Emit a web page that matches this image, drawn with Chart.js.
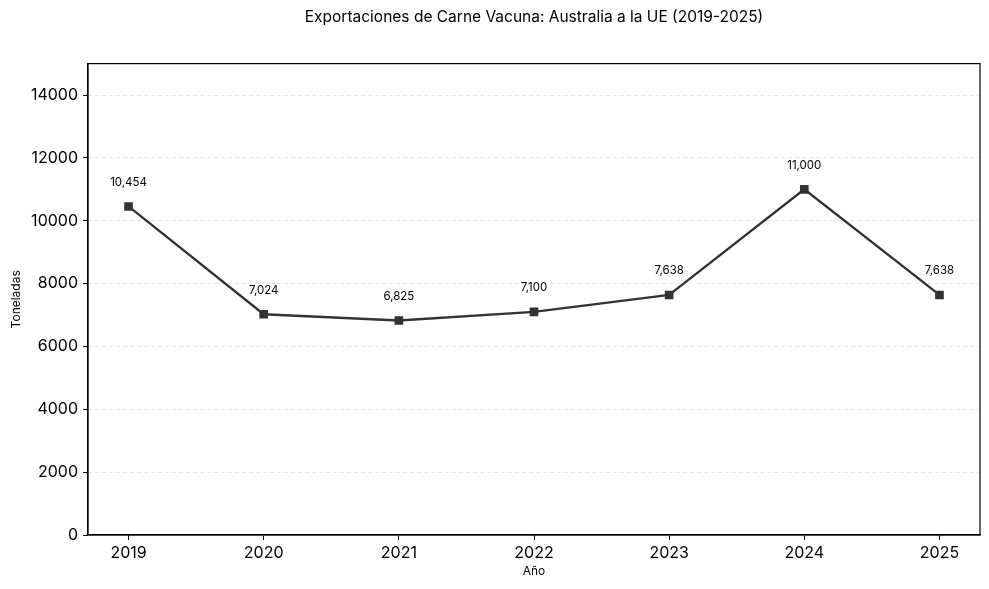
<!DOCTYPE html>
<html>
<head>
<meta charset="utf-8">
<script src="https://cdn.jsdelivr.net/npm/chart.js@4.4.1/dist/chart.umd.min.js"></script>
<style>
  html, body { margin: 0; padding: 0; background: #fff; }
  #wrap { width: 989px; height: 589px; }
</style>
</head>
<body>
<div id="wrap"><canvas id="chart"></canvas></div>
<script>
// data
const years = [2019, 2020, 2021, 2022, 2023, 2024, 2025];
const tonnes = [10454, 7024, 6825, 7100, 7638, 11000, 7638];
const yTicks = [0, 2000, 4000, 6000, 8000, 10000, 12000, 14000];

const FONT = "Inter, 'Open Sans', sans-serif";

// frame round the plot + value labels above points
const extras = {
  id: 'extras',
  afterDatasetsDraw(chart) {
    const { ctx, chartArea: a } = chart;
    ctx.save();
    ctx.strokeStyle = '#000';
    ctx.lineWidth = 1.2;
    ctx.strokeRect(a.left, a.top, a.right - a.left, a.bottom - a.top);
    ctx.fillStyle = '#000';
    ctx.font = '11.5px ' + FONT;
    ctx.textAlign = 'center';
    ctx.textBaseline = 'middle';
    chart.getDatasetMeta(0).data.forEach((pt, i) => {
      ctx.fillText(tonnes[i].toLocaleString('en-US'), pt.x, pt.y - 24);
    });
    ctx.restore();
  }
};

new Chart(document.getElementById('chart').getContext('2d'), {
  type: 'line',
  data: {
    datasets: [{
      data: years.map((y, i) => ({ x: y, y: tonnes[i] })),
      borderColor: '#333333',
      backgroundColor: '#333333',
      borderWidth: 2.3,
      pointStyle: 'rect',
      pointRadius: 4.5,
      pointHoverRadius: 4.5,
      tension: 0
    }]
  },
  options: {
    responsive: true,
    maintainAspectRatio: false,
    animation: false,
    layout: { padding: { left: 9, right: 9, top: 0, bottom: 10 } },
    plugins: {
      legend: { display: false },
      tooltip: { enabled: false },
      title: {
        display: true,
        fullSize: false,
        text: 'Exportaciones de Carne Vacuna: Australia a la UE (2019-2025)',
        color: '#000',
        font: { family: FONT, size: 15.5, weight: 'normal' },
        padding: { top: 8, bottom: 37 }
      }
    },
    scales: {
      x: {
        type: 'linear',
        min: 2018.7,
        max: 2025.3,
        afterBuildTicks: s => { s.ticks = years.map(v => ({ value: v })); },
        afterFit: s => { s.height = 44; },
        grid: { drawOnChartArea: false, tickLength: 5, tickColor: '#000' },
        border: { color: '#000', width: 1.2 },
        ticks: {
          color: '#000',
          padding: 4,
          font: { family: FONT, size: 16 },
          callback: v => String(v)
        },
        title: {
          display: true, text: 'Año', color: '#000',
          font: { family: FONT, size: 12 }, padding: { top: 3, bottom: 0 }
        }
      },
      y: {
        min: 0,
        max: 15000,
        afterBuildTicks: s => { s.ticks = yTicks.map(v => ({ value: v })); },
        afterFit: s => { s.width = 79; },
        grid: {
          color: '#e6e6e6',
          tickBorderDash: [],
          tickColor: '#000',
          tickLength: 5
        },
        border: { color: '#000', width: 1.2, dash: [4, 3] },
        ticks: {
          color: '#000',
          padding: 5,
          font: { family: FONT, size: 16 },
          callback: v => String(v)
        },
        title: {
          display: true, text: 'Toneladas', color: '#000',
          font: { family: FONT, size: 12 }, padding: { top: 0, bottom: 4 }
        }
      }
    }
  },
  plugins: [extras]
});
</script>
</body>
</html>
